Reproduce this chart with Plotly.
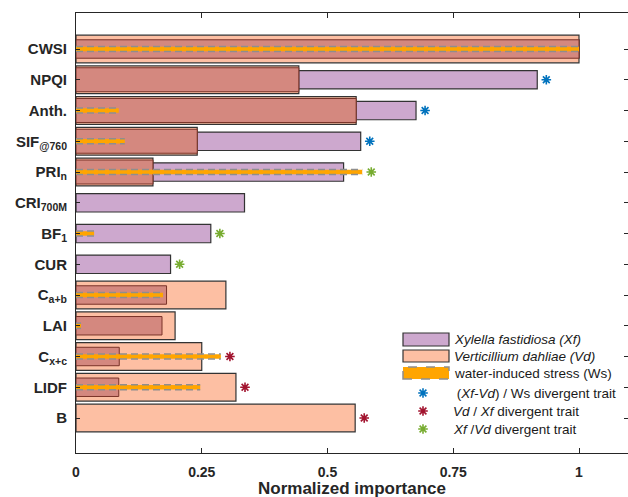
import plotly.graph_objects as go

# ---------------- data ----------------
categories = ["CWSI", "NPQI", "Anth.", "SIF<sub>@760</sub>", "PRI<sub>n</sub>",
              "CRI<sub>700M</sub>", "BF<sub>1</sub>", "CUR", "C<sub>a+b</sub>",
              "LAI", "C<sub>x+c</sub>", "LIDF", "B"]
xf_vals = [1.0, 0.917, 0.676, 0.566, 0.532, 0.335, 0.268, 0.188, 0.180, 0.171, 0.086, 0.085, 0.0]
vd_vals = [1.0, 0.443, 0.557, 0.241, 0.153, 0.0, 0.0, 0.0, 0.298, 0.197, 0.250, 0.318, 0.555]
ws_vals = [1.0, 0.0, 0.085, 0.097, 0.569, 0.0, 0.036, 0.0, 0.173, 0.010, 0.288, 0.247, 0.0]
# divergent-trait star markers: category index lists
star_blue = [1, 2, 3]     # (Xf-Vd) / Ws divergent
star_red = [10, 11, 12]   # Vd / Xf divergent
star_green = [4, 6, 7]    # Xf / Vd divergent

# ---------------- style ----------------
FONT = "Arial, Liberation Sans, sans-serif"
PURPLE = "#CDA8CE"
SALMON = "#FDBFA3"
DARK = "#D4887F"
ORANGE = "#FFA500"
GRAY = "#8E8E8E"
EDGE = "#333333"
BLUE = "#0072BD"
RED = "#A2142F"
GREEN = "#77AC30"
AX = "#262626"

W, H = 628, 497
ML, MR, MT, MB = 76, 0, 13, 44
PW, PH = W - ML - MR, H - MT - MB
PX_PER_UNIT = 503.0
x_max = PW / PX_PER_UNIT
ROW_PX = 30.75
FIRST_ROW_PX = 49.0
y_top = (MT - FIRST_ROW_PX) / ROW_PX
y_bot = (MT + PH - FIRST_ROW_PX) / ROW_PX

n = len(categories)
idx = list(range(n))

def nz(v):
    return [a if a > 0 else None for a in v]

overlap = [min(a, b) if (a > 0 and b > 0) else None for a, b in zip(xf_vals, vd_vals)]
overlap_w = [0.78 if a > b else 0.6 for a, b in zip(xf_vals, vd_vals)]

fig = go.Figure()

fig.add_trace(go.Bar(y=idx, x=nz(xf_vals), orientation="h", width=0.6,
                     marker=dict(color=PURPLE, line=dict(color=EDGE, width=1.2)),
                     showlegend=False, hoverinfo="skip"))
fig.add_trace(go.Bar(y=idx, x=nz(vd_vals), orientation="h", width=0.9,
                     marker=dict(color=SALMON, line=dict(color=EDGE, width=1.2)),
                     showlegend=False, hoverinfo="skip"))
fig.add_trace(go.Bar(y=idx, x=overlap, orientation="h", width=overlap_w,
                     marker=dict(color=DARK, line=dict(color="#7A3328", width=1)),
                     showlegend=False, hoverinfo="skip"))

# water-induced stress: orange band with grey dashed edges
wx, wy, wy_top, wy_bot = [], [], [], []
for i, v in enumerate(ws_vals):
    if v > 0:
        wx += [0, v, None]
        wy += [i, i, None]
        wy_top += [i - 0.085, i - 0.085, None]
        wy_bot += [i + 0.085, i + 0.085, None]
fig.add_trace(go.Scatter(x=wx, y=wy, mode="lines", line=dict(color=ORANGE, width=4.5),
                         showlegend=False, hoverinfo="skip"))
fig.add_trace(go.Scatter(x=wx, y=wy_top, mode="lines",
                         line=dict(color=GRAY, width=1.5, dash="7px,4px"),
                         showlegend=False, hoverinfo="skip"))
fig.add_trace(go.Scatter(x=wx, y=wy_bot, mode="lines",
                         line=dict(color=GRAY, width=1.5, dash="7px,4px"),
                         showlegend=False, hoverinfo="skip"))

# stars
for lst, col in [(star_blue, BLUE), (star_red, RED), (star_green, GREEN)]:
    sx = [max(xf_vals[i], vd_vals[i], ws_vals[i]) + 0.018 for i in lst]
    fig.add_trace(go.Scatter(x=sx, y=lst, mode="markers",
                             marker=dict(symbol="asterisk-open", size=8, color=col,
                                         line=dict(color=col, width=1.6)),
                             showlegend=False, hoverinfo="skip"))

# invisible trace on right mirror axis
fig.add_trace(go.Scatter(x=[None], y=[None], yaxis="y2", showlegend=False))

# ---------------- manual legend ----------------
def px2x(px):
    return (px - ML) / PW

def py2y(py):
    return (MT + PH - py) / PH

shapes = []
annotations = []
legend_rects = [
    (333, 346, PURPLE, dict(color=EDGE, width=1.2), "<i>Xylella fastidiosa (Xf)</i>"),
    (350, 362, SALMON, dict(color=EDGE, width=1.2), "<i>Verticillium dahliae (Vd)</i>"),
    (367, 379, ORANGE, dict(color=GRAY, width=1.5, dash="dash"), "water-induced stress (Ws)"),
]
for y0, y1, fill, line, label in legend_rects:
    shapes.append(dict(type="rect", xref="paper", yref="paper",
                       x0=px2x(403), x1=px2x(449), y0=py2y(y1), y1=py2y(y0),
                       fillcolor=fill, line=line, layer="above"))
    annotations.append(dict(x=px2x(452), y=py2y((y0 + y1) / 2), xref="paper", yref="paper",
                            text=label, showarrow=False, xanchor="left", yanchor="middle",
                            font=dict(family=FONT, size=13.5, color="#1a1a1a")))

star_legend = [
    (393, BLUE, " (<i>Xf-Vd</i>) / Ws divergent trait"),
    (411, RED, "<i>Vd</i> / <i>Xf</i> divergent trait"),
    (429, GREEN, "<i>Xf</i> /<i>Vd</i> divergent trait"),
]
fig.add_trace(go.Scatter(x=[px2x(423)] * 3, y=[py2y(s[0]) for s in star_legend],
                         xaxis="x2", yaxis="y3", mode="markers",
                         marker=dict(symbol="asterisk-open", size=8,
                                     color=[s[1] for s in star_legend],
                                     line=dict(color=[s[1] for s in star_legend], width=1.6)),
                         showlegend=False, hoverinfo="skip"))
for py, col, label in star_legend:
    annotations.append(dict(x=px2x(451), y=py2y(py), xref="paper", yref="paper",
                            text=label, showarrow=False, xanchor="left", yanchor="middle",
                            font=dict(family=FONT, size=13.5, color="#1a1a1a")))

annotations.append(dict(x=0.5, y=py2y(488), xref="paper", yref="paper",
                        text="<b>Normalized importance</b>", showarrow=False,
                        xanchor="center", yanchor="middle",
                        font=dict(family=FONT, size=17, color=AX)))

fig.update_layout(
    width=W, height=H,
    margin=dict(l=ML, r=MR, t=MT, b=MB, pad=0),
    paper_bgcolor="white", plot_bgcolor="white",
    barmode="overlay", showlegend=False,
    font=dict(family=FONT, color=AX),
    xaxis=dict(range=[0, x_max], tickvals=[0, 0.25, 0.5, 0.75, 1],
               ticktext=["0", "0.25", "0.5", "0.75", "1"],
               ticks="inside", ticklen=5, tickcolor=AX, tickwidth=1,
               showline=True, linecolor=AX, linewidth=1, mirror="ticks",
               showgrid=False, zeroline=False,
               tickfont=dict(family=FONT, size=14, color=AX, weight="bold"),
               ticklabelstandoff=6),
    yaxis=dict(range=[y_bot, y_top], tickvals=idx, ticktext=categories,
               ticks="inside", ticklen=4, tickcolor=AX, tickwidth=1,
               showline=True, linecolor=AX, linewidth=1,
               showgrid=False, zeroline=False,
               tickfont=dict(family=FONT, size=15, color=AX, weight="bold"),
               ticklabelstandoff=5),
    yaxis2=dict(range=[y_bot, y_top], overlaying="y", side="right", anchor="x",
                tickvals=idx, ticks="inside", ticklen=4, tickcolor=AX,
                showticklabels=False, showline=False, showgrid=False, zeroline=False),
    xaxis2=dict(range=[0, 1], overlaying="x", visible=False, anchor="y3"),
    yaxis3=dict(range=[0, 1], overlaying="y", visible=False, anchor="x2"),
    shapes=shapes, annotations=annotations,
)

fig.write_html("out.html")
